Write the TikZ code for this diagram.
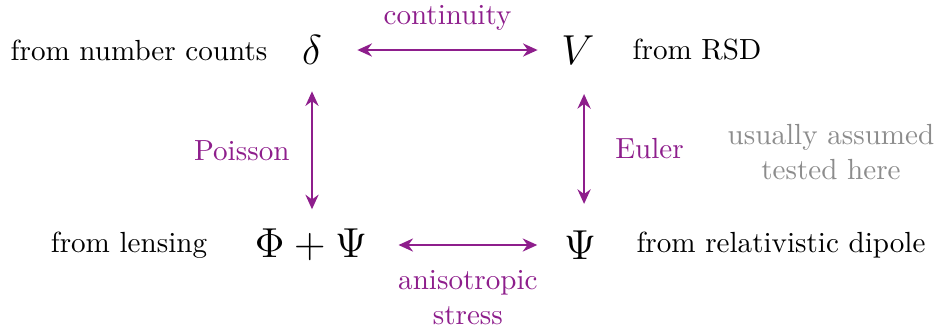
\documentclass[tikz,border=0pt]{standalone}
\usepackage{amsmath,amssymb}
\usetikzlibrary{arrows.meta, positioning}
\definecolor{relpurple}{RGB}{142, 30, 140}
\definecolor{softgray}{RGB}{140, 140, 140}

\begin{document}
\begin{tikzpicture}[x=0.3436pt, y=-0.3436pt, font=\normalsize,
  quant/.style={font=\Large, inner sep=2pt},
  src/.style={inner sep=1pt},
  rel/.style={relpurple, thick, {Stealth[length=5pt,width=4.5pt]}-{Stealth[length=5pt,width=4.5pt]}},
  rellabel/.style={relpurple, align=center}]
\useasboundingbox (0,0) rectangle (938,331);
% the four quantities
\node[quant] (dl) at (312,50) {$\delta$};
\node[quant] (vv) at (578,50) {$V$};
\node[quant] (pp) at (311,245) {$\Phi+\Psi$};
\node[quant] (ps) at (580,245) {$\Psi$};
% where they come from
\node[src] (dlsrc) at (139,50) {from number counts};
\node[src] (vvsrc) at (697,50) {from RSD};
\node[src] (ppsrc) at (129,245) {from lensing};
\node[src] (pssrc) at (781,245) {from relativistic dipole};
% relations
\draw[rel] ([xshift=10pt]dl.east) -- ([xshift=-6pt]vv.west)
  node[rellabel, midway, above=3pt] (cont) {continuity};
\draw[rel] ([yshift=-7pt]dl.south) -- ([yshift=4.6pt]dl.south |- pp.north)
  node[rellabel, midway, left=4pt] (pois) {Poisson};
\draw[rel] ([xshift=1.4pt,yshift=-8pt]vv.south -| ps.north) -- ([xshift=1.4pt,yshift=7pt]ps.north)
  node[rellabel, midway, right=7pt] (eul) {Euler};
\draw[rel] ([xshift=8.6pt]pp.east) -- ([xshift=-7pt]ps.west)
  node[rellabel, midway, below=5pt] (aniso) {anisotropic\\stress};
% legend
\node[softgray, align=center] (legend) at (831,152) {usually assumed\\tested here};
\end{tikzpicture}
\end{document}
